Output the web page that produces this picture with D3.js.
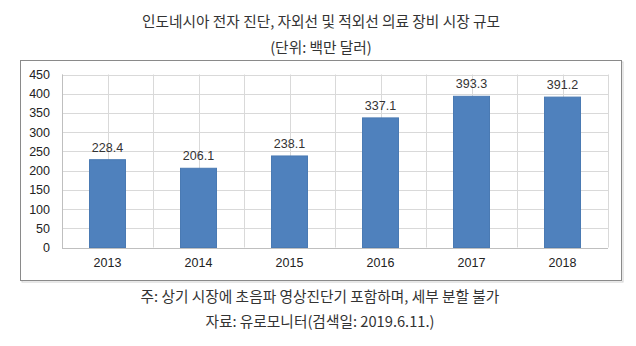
<!DOCTYPE html>
<html>
<head>
<meta charset="utf-8">
<script src="https://cdn.jsdelivr.net/npm/d3@7"></script>
<style>
  html, body { margin: 0; padding: 0; background: #fff; }
  svg { display: block; }
</style>
</head>
<body>
<svg id="chart" width="636" height="346"></svg>
<script>
// Market size by year (USD million)
const years = ["2013", "2014", "2015", "2016", "2017", "2018"];
const values = [228.4, 206.1, 238.1, 337.1, 393.3, 391.2];
const yTicks = [0, 50, 100, 150, 200, 250, 300, 350, 400, 450];

const titleLines = ["인도네시아 전자 진단, 자외선 및 적외선 의료 장비 시장 규모", "(단위: 백만 달러)"];
const noteLines = ["주: 상기 시장에 초음파 영상진단기 포함하며, 세부 분할 불가", "자료: 유로모니터(검색일: 2019.6.11.)"];

const svg = d3.select("#chart");
const krFont = "'Noto Sans CJK KR', 'Noto Sans', sans-serif";
const numFont = "'Liberation Sans', 'DejaVu Sans', sans-serif";

// Plot area
const plot = { left: 62, right: 608, top: 74.5, bottom: 247.5 };

const x = d3.scaleBand().domain(years).range([plot.left, plot.right]).paddingInner(0).paddingOuter(0);
const y = d3.scaleLinear().domain([0, 450]).range([plot.bottom, plot.top]);

// Chart frame with a faint shadow
svg.append("rect")
  .attr("x", 22).attr("y", 62).attr("width", 601).attr("height", 220)
  .attr("fill", "none").attr("stroke", "#d0d0d0").attr("stroke-width", 1);
svg.append("rect")
  .attr("x", 20.5).attr("y", 60.5).attr("width", 601).attr("height", 220)
  .attr("fill", "#fff").attr("stroke", "#8a8a8a").attr("stroke-width", 1);

// Titles
svg.selectAll("text.title").data(titleLines).join("text")
  .attr("class", "title")
  .attr("x", 321).attr("y", (d, i) => 27 + i * 25.5)
  .attr("text-anchor", "middle")
  .attr("font-family", krFont).attr("font-size", 14.7).attr("fill", "#333")
  .text(d => d);

// Horizontal gridlines
const g = svg.append("g");
g.selectAll("line.hgrid").data(yTicks).join("line")
  .attr("class", "hgrid")
  .attr("x1", plot.left).attr("x2", plot.right)
  .attr("y1", d => Math.round(y(d)) + 0.5).attr("y2", d => Math.round(y(d)) + 0.5)
  .attr("stroke", "#d9d9d9").attr("stroke-width", 1);

// Vertical gridlines at category edges and centres
const vPos = [];
years.forEach(c => { vPos.push(x(c)); vPos.push(x(c) + x.bandwidth() / 2); });
vPos.push(plot.right);
g.selectAll("line.vgrid").data(vPos).join("line")
  .attr("class", "vgrid")
  .attr("x1", d => Math.round(d) + 0.5).attr("x2", d => Math.round(d) + 0.5)
  .attr("y1", plot.top).attr("y2", plot.bottom)
  .attr("stroke", "#d9d9d9").attr("stroke-width", 1);

// Axis lines
g.append("line")
  .attr("x1", plot.left + 0.5).attr("x2", plot.left + 0.5)
  .attr("y1", plot.top).attr("y2", Math.round(plot.bottom) + 0.5)
  .attr("stroke", "#bfbfbf");
g.append("line")
  .attr("x1", plot.left).attr("x2", plot.right)
  .attr("y1", Math.round(plot.bottom) + 0.5).attr("y2", Math.round(plot.bottom) + 0.5)
  .attr("stroke", "#bfbfbf");

// Bars
const barW = 36;
g.selectAll("rect.bar").data(values).join("rect")
  .attr("class", "bar")
  .attr("x", (d, i) => x(years[i]) + x.bandwidth() / 2 - barW / 2)
  .attr("y", d => y(d))
  .attr("width", barW)
  .attr("height", d => y(0) - y(d))
  .attr("fill", "#4f81bd").attr("stroke", "#4a7ab3").attr("stroke-width", 1);

// Value labels
g.selectAll("text.val").data(values).join("text")
  .attr("class", "val")
  .attr("x", (d, i) => x(years[i]) + x.bandwidth() / 2)
  .attr("y", d => y(d) - 8)
  .attr("text-anchor", "middle")
  .attr("font-family", numFont).attr("font-size", 12.5).attr("fill", "#333")
  .text(d => d.toFixed(1));

// Y axis labels
const yAxis = d3.axisLeft(y).tickValues(yTicks).tickSize(0).tickPadding(12);
svg.append("g")
  .attr("transform", `translate(${plot.left},0)`)
  .call(yAxis)
  .call(s => s.select(".domain").remove())
  .call(s => s.selectAll("text").attr("font-family", numFont).attr("font-size", 12.5).attr("fill", "#222"));

// X axis labels
const xAxis = d3.axisBottom(x).tickSize(0).tickPadding(11);
svg.append("g")
  .attr("transform", `translate(0,${plot.bottom})`)
  .call(xAxis)
  .call(s => s.select(".domain").remove())
  .call(s => s.selectAll("text").attr("font-family", numFont).attr("font-size", 12.5).attr("fill", "#222"));

// Notes below the chart
svg.selectAll("text.note").data(noteLines).join("text")
  .attr("class", "note")
  .attr("x", 320).attr("y", (d, i) => 302 + i * 24.5)
  .attr("text-anchor", "middle")
  .attr("font-family", krFont).attr("font-size", 14.7).attr("fill", "#333")
  .text(d => d);
</script>
</body>
</html>
